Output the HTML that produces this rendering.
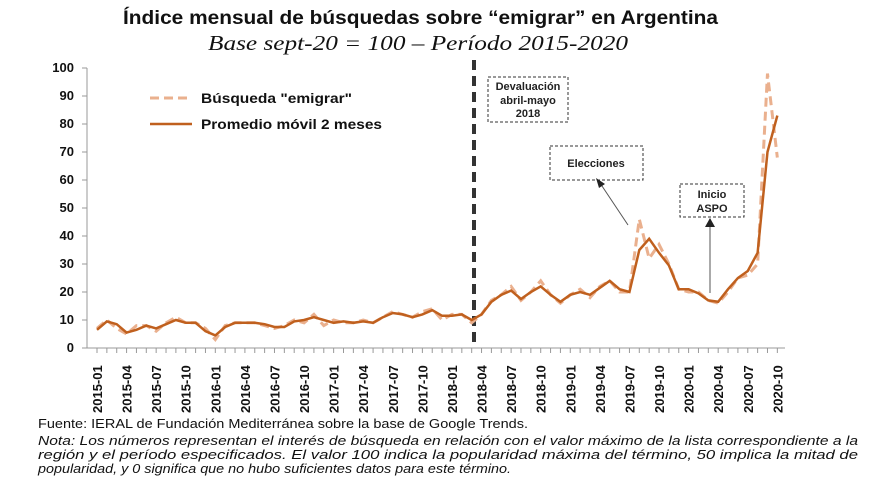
<!DOCTYPE html>
<html><head><meta charset="utf-8"><style>
body{margin:0;background:#fff;width:880px;height:495px;overflow:hidden}
svg{display:block}
</style></head><body>
<svg width="880" height="495" xmlns="http://www.w3.org/2000/svg" font-family="Liberation Sans, sans-serif">
<text x="123" y="24" textLength="595" lengthAdjust="spacingAndGlyphs" font-size="19" font-weight="bold" fill="#111">Índice mensual de búsquedas sobre “emigrar” en Argentina</text>
<text x="208" y="50" textLength="420" lengthAdjust="spacingAndGlyphs" font-size="21" font-style="italic" font-family="Liberation Serif, serif" fill="#111">Base sept-20 = 100 – Período 2015-2020</text>
<g font-size="13" font-weight="bold" fill="#111" text-anchor="end">
<text x="74" y="352">0</text><text x="74" y="324">10</text><text x="74" y="296">20</text><text x="74" y="268">30</text><text x="74" y="240">40</text><text x="74" y="212">50</text><text x="74" y="184">60</text><text x="74" y="156">70</text><text x="74" y="128">80</text><text x="74" y="100">90</text><text x="74" y="72">100</text>
</g>
<g stroke="#999" stroke-width="1"><line x1="87" y1="68" x2="87" y2="348"/><line x1="87" y1="348" x2="785" y2="348"/>
<line x1="82" y1="348" x2="87" y2="348"/><line x1="82" y1="320" x2="87" y2="320"/><line x1="82" y1="292" x2="87" y2="292"/><line x1="82" y1="264" x2="87" y2="264"/><line x1="82" y1="236" x2="87" y2="236"/><line x1="82" y1="208" x2="87" y2="208"/><line x1="82" y1="180" x2="87" y2="180"/><line x1="82" y1="152" x2="87" y2="152"/><line x1="82" y1="124" x2="87" y2="124"/><line x1="82" y1="96" x2="87" y2="96"/><line x1="82" y1="68" x2="87" y2="68"/></g>
<g id="ticks" stroke="#999"></g>
<g id="xl" font-size="13" font-weight="bold" fill="#111"></g>
<line x1="474" y1="60" x2="474" y2="348" stroke="#333" stroke-width="4" stroke-dasharray="10,6"/>
<polyline id="s" fill="none" stroke="#eab08e" stroke-width="3" stroke-dasharray="9,5"/>
<polyline id="m" fill="none" stroke="#c0601e" stroke-width="2.5"/>
<line x1="150" y1="98" x2="192" y2="98" stroke="#eab08e" stroke-width="3" stroke-dasharray="9,5"/>
<line x1="150" y1="124" x2="192" y2="124" stroke="#c0601e" stroke-width="2.5"/>
<text x="201" y="103" textLength="151" lengthAdjust="spacingAndGlyphs" font-size="14" font-weight="bold" fill="#111">Búsqueda "emigrar"</text>
<text x="201" y="129" textLength="181" lengthAdjust="spacingAndGlyphs" font-size="14" font-weight="bold" fill="#111">Promedio móvil 2 meses</text>
<g stroke="#333" stroke-dasharray="3,2" fill="#fff"><rect x="488" y="77" width="80" height="45"/><rect x="550" y="146" width="93" height="34"/><rect x="680" y="184" width="64" height="33"/></g>
<g font-size="11" font-weight="bold" fill="#222" text-anchor="middle">
<text x="528" y="90">Devaluación</text><text x="528" y="104">abril-mayo</text><text x="528" y="117">2018</text>
<text x="596" y="167">Elecciones</text>
<text x="712" y="198">Inicio</text><text x="712" y="212">ASPO</text></g>
<g stroke="#555" stroke-width="1"><line x1="600" y1="183" x2="628" y2="225"/><line x1="710" y1="222" x2="710" y2="293"/></g>
<polygon points="596,178 605,184 599,188" fill="#222"/><polygon points="710,218 705,227 715,227" fill="#222"/>
<text x="38" y="428" textLength="490" lengthAdjust="spacingAndGlyphs" font-size="12.5" fill="#111">Fuente: IERAL de Fundación Mediterránea sobre la base de Google Trends.</text>
<g font-size="12.5" font-style="italic" fill="#111">
<text x="38" y="445" textLength="820" lengthAdjust="spacingAndGlyphs">Nota: Los números representan el interés de búsqueda en relación con el valor máximo de la lista correspondiente a la</text>
<text x="38" y="459" textLength="820" lengthAdjust="spacingAndGlyphs">región y el período especificados. El valor 100 indica la popularidad máxima del término, 50 implica la mitad de</text>
<text x="38" y="473" textLength="473" lengthAdjust="spacingAndGlyphs">popularidad, y 0 significa que no hubo suficientes datos para este término.</text></g>
</svg>
<script>
var m=[6.5,9.5,8.5,5.5,6.5,8,7,8.5,10,9,9,6,4.5,7.5,9,9,9,8.5,7.5,7.5,9.5,10,11,10,9,9.5,9,9.5,9,11,12.5,12,11,12,13.5,11.5,11.5,12,10,12,16.5,19,20.5,17.5,20,22,19,16.5,19,20,19,21.5,24,21,20,35,39,34,29.5,21,21,19.5,17,16.5,21,25,27.5,34,70,83];
var s=[7,10,7,5,8,8,6,9,11,9,9,7,3,8,9,9,9,8,7,8,10,9,12,8,10,9,9,10,9,11,13,12,11,13,14,10,12,12,9,12,17,19,22,17,20,24,19,16,19,21,18,22,24,20,20,46,32,37,30,21,20,20,17,16,20,25,26,30,98,68];
function X(i){return 97+i*9.86}function Y(v){return 348-2.8*v}
document.getElementById('m').setAttribute('points',m.map((v,i)=>X(i)+','+Y(v)).join(' '));
document.getElementById('s').setAttribute('points',s.map((v,i)=>X(i)+','+Y(v)).join(' '));
var t='',l='';
for(var i=0;i<70;i++){t+='<line x1="'+X(i)+'" y1="348" x2="'+X(i)+'" y2="353"/>';
if(i%3==0){var yr=2015+Math.floor(i/12),mo=i%12+1;var lab=yr+'-'+(mo<10?'0':'')+mo;
l+='<text transform="translate('+(X(i)+5)+',413) rotate(-90)">'+lab+'</text>';}}
document.getElementById('ticks').innerHTML=t;document.getElementById('xl').innerHTML=l;
</script>
</body></html>
